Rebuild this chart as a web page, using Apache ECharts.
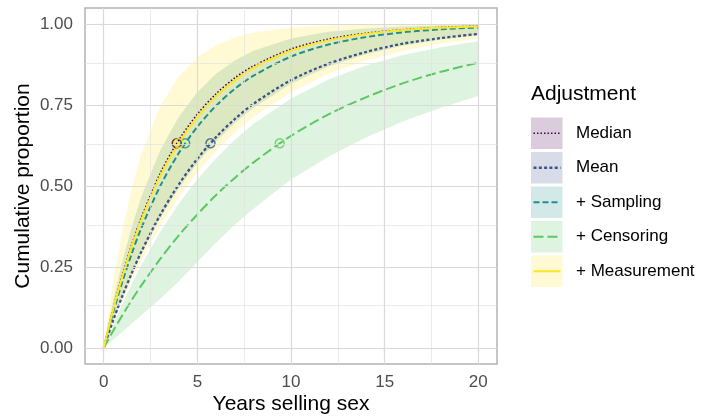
<!DOCTYPE html>
<html>
<head>
<meta charset="utf-8">
<script src="https://cdn.jsdelivr.net/npm/echarts@6/dist/echarts.min.js"></script>
<style>html,body{margin:0;padding:0;background:#fff;}#chart{width:702px;height:419px;}</style>
</head>
<body>
<div id="chart"></div>
<script>
// ---- data ----
const years = [0, 0.5, 1, 1.5, 2, 3, 4, 5, 6, 7, 8, 10, 12, 14, 16, 18, 20];
const adjustments = ['Median', 'Mean', '+ Sampling', '+ Censoring', '+ Measurement'];
const medianCurve      = [0, 0.120, 0.226, 0.319, 0.401, 0.537, 0.641, 0.722, 0.785, 0.834, 0.871, 0.923, 0.954, 0.972, 0.983, 0.990, 0.994];
const meanCurve        = [0, 0.084, 0.161, 0.231, 0.296, 0.409, 0.504, 0.584, 0.651, 0.707, 0.754, 0.827, 0.878, 0.914, 0.940, 0.957, 0.970];
const samplingCurve    = [0, 0.109, 0.205, 0.292, 0.369, 0.498, 0.601, 0.683, 0.748, 0.800, 0.841, 0.900, 0.937, 0.960, 0.975, 0.984, 0.990];
const censoringCurve   = [0, 0.052, 0.101, 0.148, 0.192, 0.273, 0.347, 0.412, 0.472, 0.525, 0.573, 0.655, 0.721, 0.774, 0.818, 0.853, 0.881];
const measurementCurve = [0, 0.118, 0.221, 0.313, 0.393, 0.528, 0.632, 0.713, 0.777, 0.826, 0.865, 0.918, 0.950, 0.970, 0.982, 0.989, 0.993];
const samplingLower    = [0, 0.081, 0.156, 0.224, 0.288, 0.399, 0.492, 0.571, 0.638, 0.695, 0.742, 0.816, 0.869, 0.907, 0.934, 0.953, 0.966];
const samplingUpper    = [0, 0.145, 0.268, 0.374, 0.465, 0.608, 0.713, 0.790, 0.847, 0.888, 0.918, 0.956, 0.977, 0.987, 0.993, 0.996, 0.998];
const censoringLower   = [0, 0.025, 0.050, 0.075, 0.100, 0.150, 0.205, 0.265, 0.325, 0.380, 0.430, 0.520, 0.590, 0.650, 0.700, 0.742, 0.778];
const censoringUpper   = [0, 0.071, 0.137, 0.198, 0.255, 0.357, 0.445, 0.521, 0.586, 0.643, 0.692, 0.770, 0.829, 0.872, 0.905, 0.929, 0.947];
const measurementLower = [0, 0.075, 0.145, 0.209, 0.268, 0.374, 0.465, 0.542, 0.608, 0.665, 0.713, 0.790, 0.847, 0.888, 0.918, 0.940, 0.956];
const measurementUpper = [0, 0.203, 0.365, 0.494, 0.597, 0.744, 0.838, 0.897, 0.935, 0.959, 0.974, 0.989, 0.996, 0.998, 0.999, 1.000, 1.000];
const pointYears      = [3.9, 5.7, 4.35, 9.4, 4.0];
const pointProportion = [0.632, 0.632, 0.632, 0.632, 0.632];
const xTicks = [0, 5, 10, 15, 20];
const xMinor = [2.5, 7.5, 12.5, 17.5];
const yTicks = [0, 0.25, 0.5, 0.75, 1];
const yMinor = [0.125, 0.375, 0.625, 0.875];

// ---- styling ----
const FONT = 'Liberation Sans, Arial, Helvetica, sans-serif';
const colors = ['#440154', '#3B528B', '#21908C', '#5DC863', '#FDE725'];
const fills = ['rgba(68,1,84,0.2)', 'rgba(59,82,139,0.2)', 'rgba(33,144,140,0.2)', 'rgba(93,200,99,0.2)', 'rgba(253,231,37,0.2)'];
const widths = [1.6, 2.3, 2.0, 2.0, 2.0];
const dashes = [[1.5, 2], [3, 2.3], [6, 3], [10, 4], null];
const curves = [medianCurve, meanCurve, samplingCurve, censoringCurve, measurementCurve];
const bands = [null, null, [samplingLower, samplingUpper], [censoringLower, censoringUpper], [measurementLower, measurementUpper]];

const pairs = arr => years.map((t, i) => [t, arr[i]]);
const series = [];

// grid lines via markLine (major + minor)
series.push({
  type: 'line', data: [], z: 0, silent: true, animation: false,
  markLine: {
    silent: true, symbol: 'none', animation: false, label: { show: false },
    data: [
      ...xMinor.map(v => ({ xAxis: v, lineStyle: { color: '#e2e2e2', width: 0.7, type: 'solid' } })),
      ...yMinor.map(v => ({ yAxis: v, lineStyle: { color: '#e2e2e2', width: 0.7, type: 'solid' } })),
      ...xTicks.map(v => ({ xAxis: v, lineStyle: { color: '#dadada', width: 1.2, type: 'solid' } })),
      ...yTicks.map(v => ({ yAxis: v, lineStyle: { color: '#dadada', width: 1.2, type: 'solid' } }))
    ]
  }
});

// ribbons (custom polygons through the axis scales)
bands.forEach((b, k) => {
  if (!b) return;
  const [lo, hi] = b;
  series.push({
    type: 'custom', z: 1, silent: true, clip: true,
    data: years.map((t, i) => [t, lo[i], hi[i]]),
    encode: { x: 0, y: [1, 2] },
    renderItem: (params, api) => {
      if (params.dataIndex !== 0) return null;
      const pts = [];
      for (let i = 0; i < years.length; i++) pts.push(api.coord([years[i], hi[i]]));
      for (let i = years.length - 1; i >= 1; i--) pts.push(api.coord([years[i], lo[i]]));
      return { type: 'polygon', shape: { points: pts }, style: { fill: fills[k] } };
    }
  });
});

// lines
curves.forEach((c, k) => {
  series.push({
    type: 'line', name: adjustments[k], data: pairs(c), smooth: 0.3, showSymbol: false, z: 3,
    lineStyle: { color: colors[k], width: widths[k], type: dashes[k] || 'solid' }
  });
});

// points
pointYears.forEach((t, k) => {
  series.push({
    type: 'scatter', data: [[t, pointProportion[k]]], symbol: 'circle', symbolSize: 9, z: 4,
    itemStyle: { color: 'rgba(0,0,0,0)', borderColor: colors[k], borderWidth: 1.5 }
  });
});

// legend drawn as graphics
const graphics = [];
graphics.push({ type: 'text', x: 531, y: 94.5, style: { text: 'Adjustment', font: '21px ' + FONT, fill: '#000', textVerticalAlign: 'middle', verticalAlign: 'middle' } });
adjustments.forEach((name, k) => {
  const top = 117.5 + k * 34.5;
  const cy = top + 15.75;
  graphics.push({ type: 'rect', shape: { x: 531, y: top, width: 31.5, height: 31.5 }, style: { fill: fills[k] } });
  graphics.push({ type: 'line', shape: { x1: 533.5, y1: cy, x2: 560.5, y2: cy }, style: { stroke: colors[k], lineWidth: widths[k], lineDash: dashes[k] || null } });
  graphics.push({ type: 'text', x: 576, y: cy, style: { text: name, font: '17px ' + FONT, fill: '#000', textVerticalAlign: 'middle', verticalAlign: 'middle' } });
});
// axis titles
graphics.push({ type: 'text', x: 291, y: 404.5, style: { text: 'Years selling sex', font: '21px ' + FONT, fill: '#000', textAlign: 'center', align: 'center', textVerticalAlign: 'middle', verticalAlign: 'middle' } });
graphics.push({ type: 'text', x: 23, y: 186, rotation: Math.PI / 2, style: { text: 'Cumulative proportion', font: '21px ' + FONT, fill: '#000', textAlign: 'center', align: 'center', textVerticalAlign: 'middle', verticalAlign: 'middle' } });

const chart = echarts.init(document.getElementById('chart'), null, { renderer: 'canvas' });
chart.setOption({
  animation: false,
  backgroundColor: '#fff',
  grid: { left: 85, right: 205, top: 8, bottom: 55, show: true, borderColor: '#b3b3b3', borderWidth: 1.5, backgroundColor: '#fff', containLabel: false },
  xAxis: {
    type: 'value', min: -1, max: 21,
    axisLine: { show: false },
    splitLine: { show: false },
    axisTick: { show: true, length: 3.7, lineStyle: { color: '#b3b3b3', width: 1.2 }, customValues: xTicks },
    axisLabel: { customValues: xTicks, color: '#4d4d4d', fontSize: 17, fontFamily: FONT, margin: 10 }
  },
  yAxis: {
    type: 'value', min: -0.05, max: 1.05,
    axisLine: { show: false },
    splitLine: { show: false },
    axisTick: { show: true, length: 3.7, lineStyle: { color: '#b3b3b3', width: 1.2 }, customValues: yTicks },
    axisLabel: { customValues: yTicks, color: '#4d4d4d', fontSize: 17, fontFamily: FONT, margin: 12, formatter: v => Number(v).toFixed(2) }
  },
  series: series,
  graphic: graphics
});
</script>
</body>
</html>
